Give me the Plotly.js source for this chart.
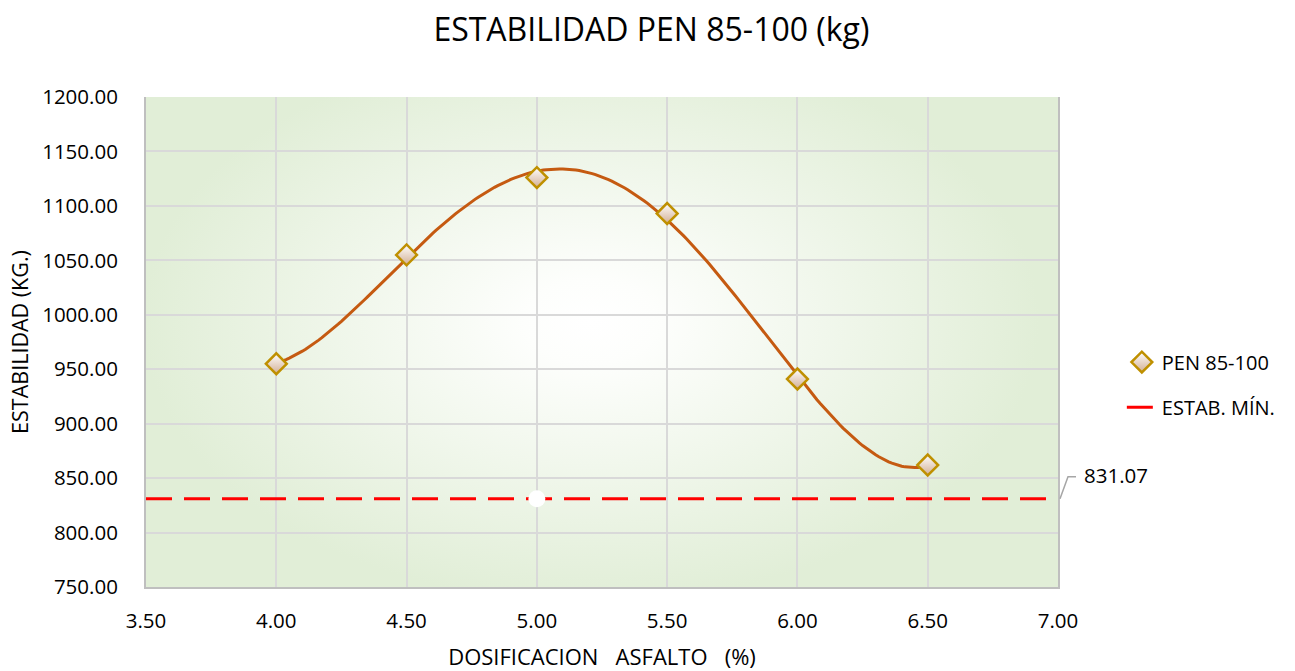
<!DOCTYPE html>
<html>
<head>
<meta charset="utf-8">
<script src="https://cdn.plot.ly/plotly-3.0.1.min.js"></script>
<style>html,body{margin:0;padding:0;background:#fff;}#chart{width:1295px;height:671px;}</style>
</head>
<body>
<div id="chart"></div>
<script>
// ---- data ----
const dosificacion = [4.0, 4.5, 5.0, 5.5, 6.0, 6.5];
const estabilidad = [955, 1055, 1126, 1093, 941, 862];
const estabMinX = [3.5, 5.0, 7.0];
const estabMinY = [831.07, 831.07, 831.07];
const estabMinLabel = "831.07";
const xTicks = [3.5, 4.0, 4.5, 5.0, 5.5, 6.0, 6.5, 7.0];
const yTicks = [750, 800, 850, 900, 950, 1000, 1050, 1100, 1150, 1200];
const trendOrder = 4;

// least-squares polynomial trendline (like the spreadsheet's)
function polyfit(xs, ys, n) {
  const m = n + 1;
  const A = [];
  for (let i = 0; i < m; i++) {
    A.push(new Array(m + 1).fill(0));
    for (let j = 0; j < m; j++) {
      let s = 0; for (let k = 0; k < xs.length; k++) s += Math.pow(xs[k], i + j);
      A[i][j] = s;
    }
    let s = 0; for (let k = 0; k < xs.length; k++) s += ys[k] * Math.pow(xs[k], i);
    A[i][m] = s;
  }
  for (let c = 0; c < m; c++) {
    let p = c;
    for (let r = c + 1; r < m; r++) if (Math.abs(A[r][c]) > Math.abs(A[p][c])) p = r;
    [A[c], A[p]] = [A[p], A[c]];
    for (let r = 0; r < m; r++) {
      if (r === c) continue;
      const f = A[r][c] / A[c][c];
      for (let k = c; k <= m; k++) A[r][k] -= f * A[c][k];
    }
  }
  return A.map((row, i) => row[m] / row[i]);
}
const coef = polyfit(dosificacion, estabilidad, trendOrder);
const tx = [], ty = [];
const x0 = dosificacion[0], x1 = dosificacion[dosificacion.length - 1];
for (let i = 0; i <= 200; i++) {
  const x = x0 + (x1 - x0) * i / 200;
  let y = 0; coef.forEach((c, p) => { y += c * Math.pow(x, p); });
  tx.push(x); ty.push(y);
}

// radial background
const cv = document.createElement('canvas');
cv.width = 912; cv.height = 490;
const ctx = cv.getContext('2d');
ctx.fillStyle = '#e1eed7'; ctx.fillRect(0, 0, 912, 490);
ctx.save();
ctx.translate(445, 225);
ctx.scale(1.6, 1);
const g = ctx.createRadialGradient(0, 0, 0, 0, 0, 280);
g.addColorStop(0, '#ffffff');
g.addColorStop(0.15, '#fdfefc');
g.addColorStop(1, '#e1eed7');
ctx.fillStyle = g; ctx.fillRect(-400, -300, 800, 600);
ctx.restore();
const bg = cv.toDataURL('image/png');

const FONT = '"Open Sans", "Liberation Sans", sans-serif';
const yRange = [750, 1200];
const labelY = (estabMinY[2] - yRange[0]) / (yRange[1] - yRange[0]);

const traces = [
  {x: tx, y: ty, mode: 'lines', line: {color: '#c55a11', width: 3}, showlegend: false, hoverinfo: 'skip'},
  {x: dosificacion, y: estabilidad, mode: 'markers', name: 'PEN 85-100', legend: 'legend',
   marker: {symbol: 'diamond', size: 16, color: '#ffffff', gradient: {type: 'vertical', color: '#d2ae93'},
            line: {color: '#bf9000', width: 2.5}}},
  {x: estabMinX, y: estabMinY, mode: 'lines', name: 'ESTAB. MÍN.', legend: 'legend2',
   line: {color: '#ff0000', width: 3, dash: '26px,12px'}},
  {x: [estabMinX[1]], y: [estabMinY[1]], mode: 'markers', showlegend: false, hoverinfo: 'skip',
   marker: {color: '#ffffff', size: 17, line: {width: 0}}}
];

const legendCommon = {xanchor: 'left', yanchor: 'middle', xref: 'paper', yref: 'paper',
  font: {family: FONT, size: 20}, bgcolor: 'rgba(0,0,0,0)'};

const layout = {
  width: 1295, height: 671,
  margin: {l: 146, r: 237, t: 97, b: 84},
  paper_bgcolor: '#ffffff', plot_bgcolor: '#e9f3e2',
  font: {family: FONT, size: 20, color: '#000000'},
  title: {text: 'ESTABILIDAD PEN 85-100 (kg)', font: {family: FONT, size: 32, color: '#000'}, x: 0.503, xanchor: 'center', y: 0.955, yanchor: 'middle'},
  xaxis: {range: [3.5, 7.0], tickvals: xTicks, ticktext: xTicks.map(v => v.toFixed(2)),
          showgrid: true, gridcolor: '#d9d9d9', gridwidth: 2, zeroline: false,
          showline: true, linecolor: '#bfbfbf', linewidth: 2, ticks: '', ticklen: 0,
          ticklabelstandoff: 14,
          tickfont: {family: FONT, size: 20.5}, automargin: false,
          title: {text: 'DOSIFICACION&nbsp;&nbsp; ASFALTO&nbsp;&nbsp; (%)', font: {family: FONT, size: 22}, standoff: 20}},
  yaxis: {range: yRange, tickvals: yTicks, ticktext: yTicks.map(v => v.toFixed(2)),
          showgrid: true, gridcolor: '#d9d9d9', gridwidth: 2, zeroline: false,
          showline: true, mirror: true, linecolor: '#bfbfbf', linewidth: 2, ticks: '', ticklen: 0,
          ticklabelstandoff: 22,
          tickfont: {family: FONT, size: 20.5}, automargin: false,
          title: {text: 'ESTABILIDAD (KG.)', font: {family: FONT, size: 21.5}, standoff: 8}},
  legend: Object.assign({x: 1.07, y: 0.459}, legendCommon),
  legend2: Object.assign({x: 1.07, y: 0.367}, legendCommon),
  images: [{source: bg, xref: 'paper', yref: 'paper', x: 0, y: 1, sizex: 1, sizey: 1,
            sizing: 'stretch', layer: 'below', xanchor: 'left', yanchor: 'top'}],
  shapes: [{type: 'path', xref: 'paper', yref: 'paper', xsizemode: 'pixel', ysizemode: 'pixel',
            xanchor: 1, yanchor: labelY, path: 'M2,0 L10,22 L18,22',
            line: {color: '#a6a6a6', width: 1.5}}],
  annotations: [{x: 1, y: labelY, xref: 'paper', yref: 'paper', text: estabMinLabel,
                 showarrow: false, xanchor: 'left', yanchor: 'middle', xshift: 24, yshift: 24,
                 font: {family: FONT, size: 20.5}}]
};

Plotly.newPlot('chart', traces, layout, {displayModeBar: false, staticPlot: true});
</script>
</body>
</html>
